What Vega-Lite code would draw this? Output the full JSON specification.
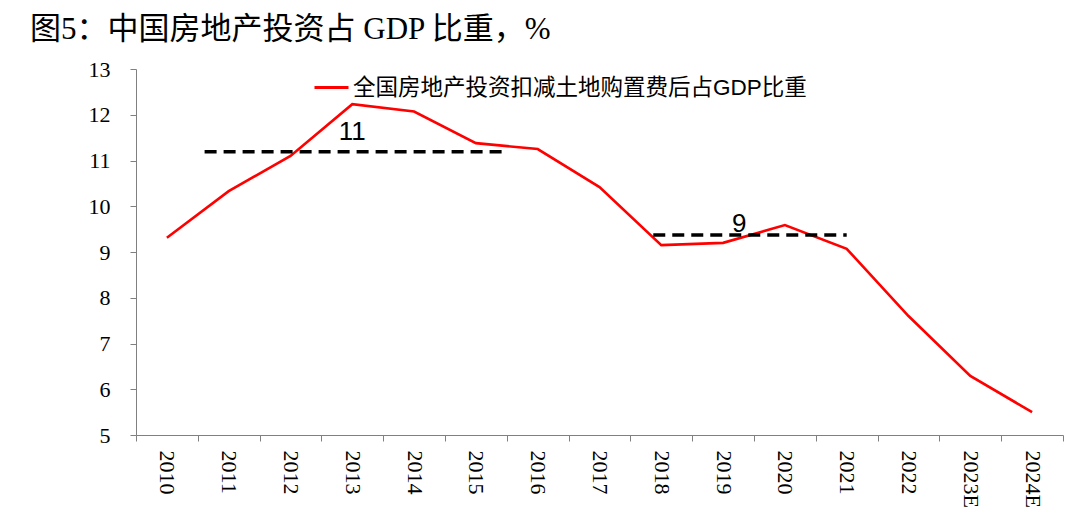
{
  "$schema": "https://vega.github.io/schema/vega-lite/v6.json",
  "width": 927,
  "height": 366,
  "autosize": "none",
  "padding": {"left": 136, "top": 69, "right": 17, "bottom": 82},
  "background": "white",
  "title": {
    "text": "图5：中国房地产投资占 GDP 比重，%",
    "anchor": "start",
    "frame": "group",
    "dx": -106,
    "offset": 12,
    "font": "Liberation Serif, Noto Sans CJK SC",
    "fontSize": 31,
    "fontWeight": "normal",
    "color": "#000000"
  },
  "config": {
    "view": {"stroke": null},
    "axis": {
      "grid": false,
      "domainColor": "#808080",
      "tickColor": "#808080",
      "labelFont": "Liberation Serif",
      "labelFontSize": 22,
      "labelColor": "#000000",
      "title": null
    }
  },
  "datasets": {
    "series": [
      {"year": "2010", "value": 9.31},
      {"year": "2011", "value": 10.33},
      {"year": "2012", "value": 11.1},
      {"year": "2013", "value": 12.23},
      {"year": "2014", "value": 12.07},
      {"year": "2015", "value": 11.38},
      {"year": "2016", "value": 11.25},
      {"year": "2017", "value": 10.42},
      {"year": "2018", "value": 9.15},
      {"year": "2019", "value": 9.2},
      {"year": "2020", "value": 9.59},
      {"year": "2021", "value": 9.07},
      {"year": "2022", "value": 7.6},
      {"year": "2023E", "value": 6.29},
      {"year": "2024E", "value": 5.5}
    ],
    "avg1": [{"start": "2011", "end": "2015", "value": 11.19, "label": "11", "at": "2013"}],
    "avg2": [{"start": "2018", "end": "2021", "value": 9.37, "label": "9", "at": "2019"}]
  },
  "layer": [
    {
      "data": {"name": "series"},
      "mark": {"type": "line", "strokeWidth": 2.6},
      "encoding": {
        "x": {
          "field": "year",
          "type": "ordinal",
          "bandPosition": 0.5,
          "scale": {
            "type": "band",
            "paddingInner": 0,
            "paddingOuter": 0,
            "domain": ["2010","2011","2012","2013","2014","2015","2016","2017","2018","2019","2020","2021","2022","2023E","2024E"]
          },
          "axis": {
            "labelAngle": 90,
            "labelAlign": "left",
            "labelBaseline": "middle",
            "labelPadding": 9,
            "tickSize": 6,
            "tickBand": "extent"
          }
        },
        "y": {
          "field": "value",
          "type": "quantitative",
          "scale": {"domain": [5, 13], "nice": false, "zero": false},
          "axis": {"values": [5,6,7,8,9,10,11,12,13], "tickSize": 6, "labelPadding": 20}
        },
        "color": {
          "datum": "全国房地产投资扣减土地购置费后占GDP比重",
          "scale": {"range": ["#FF0000"]},
          "legend": {
            "title": null,
            "orient": "none",
            "legendX": 177,
            "legendY": 0,
            "symbolType": "stroke",
            "symbolSize": 1156,
            "symbolStrokeWidth": 3,
            "labelFont": "Liberation Sans, Noto Sans CJK SC",
            "labelFontSize": 22.5,
            "labelColor": "#000000",
            "labelOffset": 3,
            "labelLimit": 0
          }
        }
      }
    },
    {
      "data": {"name": "avg1"},
      "mark": {"type": "rule", "color": "#000000", "strokeWidth": 3.5, "strokeDash": [12, 7]},
      "encoding": {
        "x": {"field": "start", "type": "ordinal", "bandPosition": 0.11},
        "x2": {"field": "end", "bandPosition": 0.97},
        "y": {"field": "value", "type": "quantitative"}
      }
    },
    {
      "data": {"name": "avg2"},
      "mark": {"type": "rule", "color": "#000000", "strokeWidth": 3.5, "strokeDash": [12, 7]},
      "encoding": {
        "x": {"field": "start", "type": "ordinal", "bandPosition": 0.37},
        "x2": {"field": "end", "bandPosition": 0.5},
        "y": {"field": "value", "type": "quantitative"}
      }
    },
    {
      "data": {"name": "avg1"},
      "mark": {"type": "text", "font": "Liberation Sans", "fontSize": 26, "color": "#000000", "baseline": "alphabetic", "dy": -12},
      "encoding": {
        "x": {"field": "at", "type": "ordinal", "bandPosition": 0.5},
        "y": {"field": "value", "type": "quantitative"},
        "text": {"field": "label"}
      }
    },
    {
      "data": {"name": "avg2"},
      "mark": {"type": "text", "font": "Liberation Sans", "fontSize": 26, "color": "#000000", "baseline": "alphabetic", "dy": -3},
      "encoding": {
        "x": {"field": "at", "type": "ordinal", "bandPosition": 0.76},
        "y": {"field": "value", "type": "quantitative"},
        "text": {"field": "label"}
      }
    }
  ]
}
